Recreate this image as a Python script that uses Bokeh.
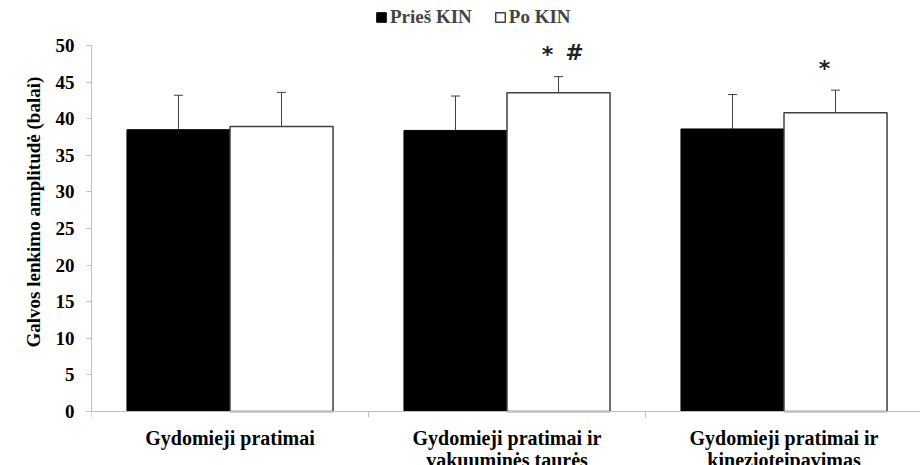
import numpy as np
from bokeh.plotting import figure
from bokeh.models import (ColumnDataSource, Range1d, FixedTicker, Whisker, TeeHead,
                          Legend, LegendItem, Title)
from bokeh.core.properties import value
from bokeh.embed import file_html
from bokeh.resources import INLINE

# ---- data ----
categories = ["Gydomieji pratimai",
              "Gydomieji pratimai ir\nvakuuminės taurės",
              "Gydomieji pratimai ir\nkinezioteipavimas"]
series_names = ["Prieš KIN", "Po KIN"]
before_mean = [38.5, 38.4, 38.6]
before_sd = [4.7, 4.7, 4.7]
after_mean = [38.95, 43.55, 40.8]
after_sd = [4.65, 2.2, 3.1]
sig_star = ["", "*", "*"]
sig_hash = ["", "#", ""]
y_ticks = [0, 5, 10, 15, 20, 25, 30, 35, 40, 45, 50]
y_title = "Galvos lenkimo amplitudė (balai)"

FONT = "Liberation Serif"
AX_GRAY = "#bfbfbf"

idx = np.arange(len(categories))
centers = idx + 0.5
bw = 0.372

b_mean = np.array(before_mean)
b_sd = np.array(before_sd)
a_mean = np.array(after_mean)
a_sd = np.array(after_sd)

src_b = ColumnDataSource(dict(x=centers - bw / 2, top=b_mean,
                              upper=b_mean + b_sd, lower=b_mean))
src_a = ColumnDataSource(dict(x=centers + bw / 2, top=a_mean,
                              upper=a_mean + a_sd, lower=a_mean - a_sd))

star_i = [i for i, s in enumerate(sig_star) if s]
hash_i = [i for i, s in enumerate(sig_hash) if s]
src_star = ColumnDataSource(dict(x=(centers + bw / 2)[star_i], y=(a_mean + a_sd)[star_i],
                                 text=[sig_star[i] for i in star_i]))
src_hash = ColumnDataSource(dict(x=(centers + bw / 2)[hash_i], y=(a_mean + a_sd)[hash_i],
                                 text=[sig_hash[i] for i in hash_i]))

p = figure(width=920, height=465, output_backend="svg", toolbar_location=None,
           x_range=Range1d(0, 829 / 277), y_range=Range1d(-7.377, 56.15),
           min_border_left=91, min_border_right=0, min_border_top=0,
           min_border_bottom=0)
p.outline_line_color = None
p.xgrid.grid_line_color = None
p.ygrid.grid_line_color = None
p.background_fill_color = "white"

rb = p.vbar(x="x", top="top", width=bw, bottom=0, source=src_b,
            fill_color="black", line_color="black", line_width=1)
ra = p.vbar(x="x", top="top", width=bw, bottom=0, source=src_a,
            fill_color="white", line_color="#404040", line_width=1.5)

wb = Whisker(source=src_b, base="x", upper="upper", lower="lower",
             line_color="#404040", line_width=1,
             upper_head=TeeHead(size=9, line_color="#404040", line_width=1),
             lower_head=None)
wa = Whisker(source=src_a, base="x", upper="upper", lower="lower",
             line_color="#404040", line_width=1,
             upper_head=TeeHead(size=9, line_color="#404040", line_width=1),
             lower_head=TeeHead(size=9, line_color="#404040", line_width=1))
p.add_layout(wb)
p.add_layout(wa)

p.text(x="x", y="y", text="text", source=src_star, x_offset=-11, y_offset=-22,
       text_font=value("DejaVu Sans"), text_font_style="bold",
       text_font_size="22px", text_color="#222222",
       text_align="center", text_baseline="middle")
p.text(x="x", y="y", text="text", source=src_hash, x_offset=16, y_offset=-24,
       text_font=value("DejaVu Sans"), text_font_style="bold",
       text_font_size="22px", text_color="#222222",
       text_align="center", text_baseline="middle")

# y axis
ya = p.yaxis[0]
ya.ticker = FixedTicker(ticks=y_ticks, minor_ticks=[])
ya.bounds = (0, 50)
ya.axis_line_color = AX_GRAY
ya.major_tick_line_color = AX_GRAY
ya.major_tick_out = 5
ya.major_tick_in = 0
ya.minor_tick_line_color = None
ya.major_label_text_font = FONT
ya.major_label_text_font_style = "bold"
ya.major_label_text_font_size = "19px"
ya.major_label_text_color = "black"
ya.major_label_standoff = 12

# y axis title, placed in the left panel beside the axis
p.add_layout(Title(text=y_title, align="left", offset=118, vertical_align="top",
                   standoff=14, text_font=FONT, text_font_style="bold",
                   text_font_size="19px", text_color="black"), "left")

# x axis at y = 0: labels at category centres, ticks at category boundaries
xa = p.xaxis[0]
xa.fixed_location = 0
xa.ticker = FixedTicker(ticks=list(centers), minor_ticks=list(idx) + [len(categories)])
xa.major_label_overrides = {float(c): lab for c, lab in zip(centers, categories)}
xa.axis_line_color = AX_GRAY
xa.major_tick_line_color = None
xa.major_tick_out = 0
xa.major_tick_in = 0
xa.minor_tick_line_color = AX_GRAY
xa.minor_tick_out = 6
xa.minor_tick_in = 0
xa.major_label_text_font = FONT
xa.major_label_text_font_style = "bold"
xa.major_label_text_font_size = "20px"
xa.major_label_text_color = "black"
xa.major_label_text_line_height = 1.0
xa.major_label_standoff = 9

legend = Legend(items=[LegendItem(label=series_names[0], renderers=[rb]),
                       LegendItem(label=series_names[1], renderers=[ra])],
                orientation="horizontal", location=(284, 437),
                glyph_width=12, glyph_height=12, label_standoff=3, spacing=22,
                padding=2, margin=0, border_line_color=None,
                background_fill_alpha=0,
                label_text_font=FONT, label_text_font_style="bold",
                label_text_font_size="19px", label_height=19)
p.add_layout(legend)

open("out.html", "w").write(file_html(p, INLINE))
